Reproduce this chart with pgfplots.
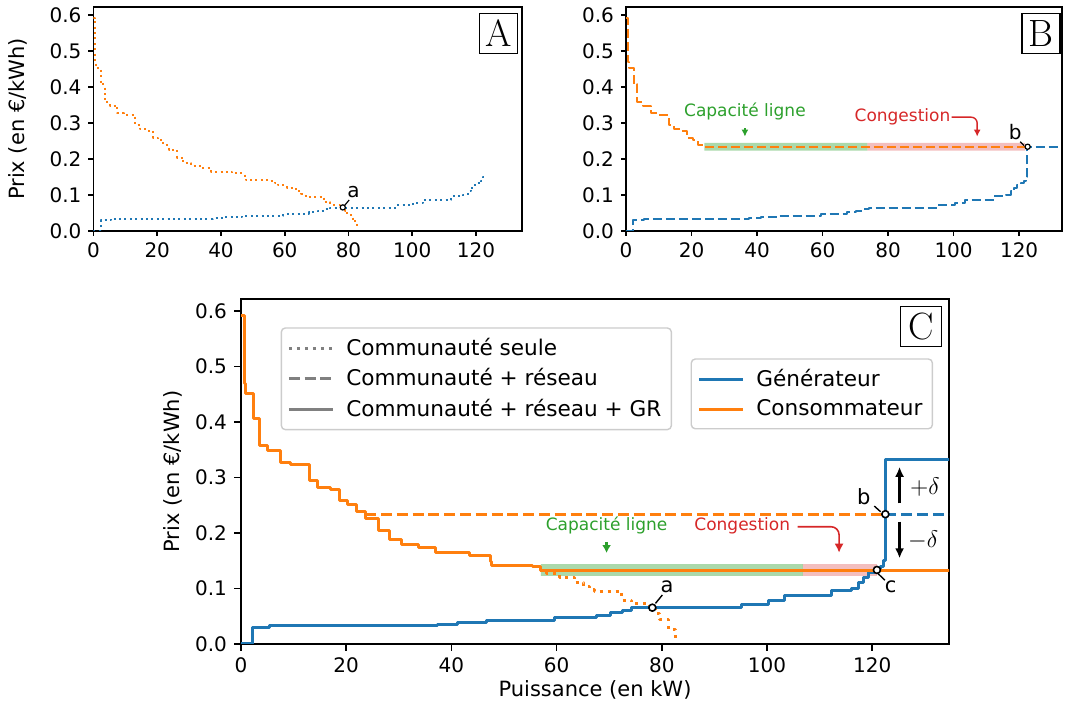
\documentclass[border=0pt]{standalone}
\usepackage{pgfplots}
\usepackage{pgfplotstable}
\pgfplotsset{compat=1.18}
\usepackage{fontspec}
\setsansfont{DejaVu Sans}
\usetikzlibrary{arrows.meta}
\definecolor{cblue}{HTML}{1F77B4}
\definecolor{corange}{HTML}{FF7F0E}
\definecolor{cgreen}{HTML}{2CA02C}
\definecolor{cred}{HTML}{D62728}
\definecolor{lgrey}{HTML}{808080}

% consumer curve, community alone
\pgfplotstableread{
x y
0 0.592
0.6 0.470
0.9 0.452
2.3 0.407
3.5 0.358
5.1 0.348
7.5 0.327
9.5 0.323
13.0 0.295
14.6 0.283
17.1 0.279
18.7 0.259
20.3 0.252
21.9 0.238
23.6 0.226
26.2 0.204
28.2 0.188
30.6 0.180
33.8 0.174
36.9 0.165
43.5 0.160
47.4 0.148
47.7 0.142
55.5 0.139
56.9 0.133
58.0 0.127
60.6 0.1195
63.4 0.110
65.2 0.104
66.2 0.0985
67.2 0.0955
72.3 0.0793
74.3 0.0733
77.2 0.0673
78.8 0.055
79.6 0.045
81.3 0.0264
82.6 0.009
83.2 0.009
}\consAlone

% consumer, community + network
\pgfplotstableread{
x y
0 0.592
0.6 0.470
0.9 0.452
2.3 0.407
3.5 0.358
5.1 0.348
7.5 0.327
9.5 0.323
13.0 0.295
14.6 0.283
17.1 0.279
18.7 0.259
20.3 0.252
21.9 0.238
23.6 0.234
122.5 0.234
}\consNet

% consumer, community + network + GR (solid)
\pgfplotstableread{
x y
0 0.592
0.6 0.470
0.9 0.452
2.3 0.407
3.5 0.358
5.1 0.348
7.5 0.327
9.5 0.323
13.0 0.295
14.6 0.283
17.1 0.279
18.7 0.259
20.3 0.252
21.9 0.238
23.6 0.226
26.2 0.204
28.2 0.188
30.6 0.180
33.8 0.174
36.9 0.165
43.5 0.160
47.4 0.148
47.7 0.142
55.5 0.139
56.9 0.133
137 0.133
}\consGR

% tail of the community-alone consumer curve shown in C
\pgfplotstableread{
x y
56.9 0.133
58.0 0.127
60.6 0.1195
63.4 0.110
65.2 0.104
66.2 0.0985
67.2 0.0955
72.3 0.0793
74.3 0.0733
77.2 0.0673
78.8 0.055
79.6 0.045
81.3 0.0264
82.6 0.009
83.2 0.009
}\consTail

% generator, community alone
\pgfplotstableread{
x y
0 0
2.2 0.0294
5.4 0.034
37.4 0.036
41.2 0.039
46.6 0.043
59.6 0.048
67.5 0.052
70.3 0.056
72.5 0.060
74.3 0.065
95.2 0.071
100.3 0.078
103.4 0.087
112.3 0.097
116.0 0.100
117.4 0.110
118.3 0.120
119.3 0.128
120.5 0.133
121.5 0.140
122.1 0.150
122.5 0.150
}\genAlone

\pgfplotstableread{
x y
0 0
2.2 0.0294
5.4 0.034
37.4 0.036
41.2 0.039
46.6 0.043
59.6 0.048
67.5 0.052
70.3 0.056
72.5 0.060
74.3 0.065
95.2 0.071
100.3 0.078
103.4 0.087
112.3 0.097
116.0 0.100
117.4 0.110
118.3 0.120
119.3 0.128
120.5 0.133
121.5 0.140
122.1 0.150
122.5 0.150
122.5 0.234
137 0.234
}\genNet

\pgfplotstableread{
x y
0 0
2.2 0.0294
5.4 0.034
37.4 0.036
41.2 0.039
46.6 0.043
59.6 0.048
67.5 0.052
70.3 0.056
72.5 0.060
74.3 0.065
95.2 0.071
100.3 0.078
103.4 0.087
112.3 0.097
116.0 0.100
117.4 0.110
118.3 0.120
119.3 0.128
120.5 0.133
121.5 0.140
122.1 0.150
122.5 0.150
122.5 0.333
137 0.333
}\genGR

\pgfplotsset{
  base/.style={
    scale only axis, xmin=0, ymin=0, ymax=0.622,
    axis line style={line width=0.8pt},
    every tick/.style={line width=0.8pt, black},
    tick align=outside, xtick pos=bottom, ytick pos=left,
    xtick={0,20,40,60,80,100,120},
    ytick={0,0.1,0.2,0.3,0.4,0.5,0.6},
    yticklabel style={/pgf/number format/.cd,fixed,fixed zerofill,precision=1},
    /pgf/number format/assume math mode=true,
    tick label style={font=\fontsize{10}{12}\selectfont\sffamily},
    every axis plot/.append style={line join=round},
  },
  small/.style={major tick length=2.5pt},
}
\tikzset{
  letter/.style={draw=black, line width=0.7pt, fill=white, inner sep=0pt,
    minimum width=19pt, minimum height=20pt, anchor=north east,
    font=\fontsize{19}{19}\selectfont\rmfamily},
  ann/.style={font=\fontsize{8.5}{10}\selectfont\sffamily},
  lab/.style={font=\fontsize{10.5}{12}\selectfont\sffamily},
  ptmark/.style={only marks, mark=*, mark options={fill=white, draw=black, line width=0.8pt}},
  ptsmall/.style={only marks, mark=*, mark size=1.3pt, mark options={fill=white, draw=black, line width=0.6pt}},
}

\begin{document}
\begin{tikzpicture}
\path (0,0) rectangle (543.5pt,355.5pt);

% ---------------- Panel A ----------------
\begin{axis}[base, small, at={(46.75pt,240pt)}, anchor=south west,
  width=214.2pt, height=112pt, xmax=134.4,
  ylabel={Prix (en €/kWh)},
  every axis y label/.style={at={(axis description cs:0,0.5)}, xshift=-37.75pt, rotate=90, anchor=center, lab}]
\addplot[const plot, cblue, line width=1pt, dash pattern=on 1pt off 1.7pt] table[x=x,y=y] {\genAlone};
\addplot[const plot, corange, line width=1pt, dash pattern=on 1pt off 1.7pt] table[x=x,y=y] {\consAlone};
\draw[line width=0.6pt] (axis cs:78.7,0.070) -- (axis cs:80.2,0.086);
\addplot[ptsmall] coordinates {(78.2,0.0655)};
\node[font=\fontsize{10}{12}\selectfont\sffamily] at (axis cs:81.6,0.109) {a};
\node[letter] at (rel axis cs:1,1) [xshift=-2pt, yshift=-2.85pt] {A};
\end{axis}

% ---------------- Panel B ----------------
\begin{axis}[base, small, at={(313pt,240pt)}, anchor=south west,
  width=217.85pt, height=112pt, xmax=133.0]
\addplot[draw=none, fill=cgreen, fill opacity=0.4] coordinates {(23.9,0.223) (73.7,0.223) (73.7,0.245) (23.9,0.245) (23.9,0.223)};
\addplot[draw=none, fill=cred, fill opacity=0.3] coordinates {(73.7,0.223) (121.8,0.223) (121.8,0.245) (73.7,0.245) (73.7,0.223)};
\addplot[const plot, cblue, line width=1pt, dash pattern=on 4.5pt off 2pt] table[x=x,y=y] {\genNet};
\addplot[const plot, corange, line width=1pt, dash pattern=on 4.5pt off 2pt] table[x=x,y=y] {\consNet};
\node[ann, text=cgreen] at (axis cs:36.3,0.331) {Capacité ligne};
\draw[cgreen, line width=0.9pt, -{Latex[length=3.5pt,width=3.5pt]}] (axis cs:36.3,0.285) -- (axis cs:36.3,0.262);
\node[ann, text=cred] at (axis cs:84.4,0.316) {Congestion};
\draw[cred, line width=0.7pt, rounded corners=3pt, -{Latex[length=3.5pt,width=3.5pt]}] (axis cs:99.4,0.316) -- (axis cs:107.2,0.316) -- (axis cs:107.2,0.262);
\draw[line width=0.6pt] (axis cs:120.3,0.248) -- (axis cs:121.5,0.237);
\addplot[ptsmall] coordinates {(122.6,0.234)};
\node[font=\fontsize{10}{12}\selectfont\sffamily] at (axis cs:118.8,0.276) {b};
\node[letter] at (rel axis cs:1,1) [xshift=-0.5pt, yshift=-2.85pt] {B};
\end{axis}

% ---------------- Panel C ----------------
\begin{axis}[base, at={(120.5pt,33.5pt)}, anchor=south west,
  width=354pt, height=172.5pt, xmax=134.6, major tick length=3.5pt,
  xlabel={Puissance (en kW)}, ylabel={Prix (en €/kWh)},
  every axis y label/.style={at={(axis description cs:0,0.5)}, xshift=-34pt, rotate=90, anchor=center, lab},
  every axis x label/.style={at={(axis description cs:0.5,0)}, yshift=-23pt, anchor=center, lab},
  legend style={at={(0.056,0.918)}, anchor=north west, draw=black!20, line width=0.7pt,
    rounded corners=2pt, fill=white, fill opacity=0.8, text opacity=1, draw opacity=1,
    font=\fontsize{10.8}{12}\selectfont\sffamily, row sep=1.2pt, inner xsep=3pt, inner ysep=3pt,
    /tikz/every odd column/.style={column sep=4pt}},
  legend cell align=left,
  legend image code/.code={\draw[#1] (0pt,0pt) -- (22pt,0pt);}]
\addlegendimage{lgrey, line width=1.5pt, dash pattern=on 1.5pt off 2.5pt}
\addlegendentry{Communauté seule}
\addlegendimage{lgrey, line width=1.5pt, dash pattern=on 5.5pt off 2.4pt}
\addlegendentry{Communauté + réseau}
\addlegendimage{lgrey, line width=1.5pt}
\addlegendentry{Communauté + réseau + GR}
\addplot[forget plot, draw=none, fill=cgreen, fill opacity=0.4] coordinates {(57,0.1230) (106.8,0.1230) (106.8,0.1440) (57,0.1440) (57,0.1230)};
\addplot[forget plot, draw=none, fill=cred, fill opacity=0.3] coordinates {(106.8,0.1230) (120.9,0.1230) (120.9,0.1440) (106.8,0.1440) (106.8,0.1230)};
\addplot[forget plot, const plot, corange, line width=1.5pt, dash pattern=on 1.5pt off 2.5pt] table[x=x,y=y] {\consTail};
\addplot[forget plot, corange, line width=1.5pt, dash pattern=on 5.5pt off 2.4pt] coordinates {(23.6,0.234) (122.5,0.234)};
\addplot[forget plot, cblue, line width=1.5pt, dash pattern=on 5.5pt off 2.4pt] coordinates {(122.5,0.234) (137,0.234)};
\addplot[forget plot, const plot, cblue, line width=1.5pt] table[x=x,y=y] {\genGR};
\addplot[forget plot, const plot, corange, line width=1.5pt] table[x=x,y=y] {\consGR};
\node[ann, text=cgreen] at (axis cs:69.5,0.213) {Capacité ligne};
\draw[cgreen, line width=1.1pt, -{Latex[length=4pt,width=4.5pt]}] (axis cs:69.5,0.184) -- (axis cs:69.5,0.164);
\node[ann, text=cred] at (axis cs:95.3,0.213) {Congestion};
\draw[cred, line width=0.8pt, rounded corners=4pt, -{Latex[length=4.5pt,width=4.5pt]}] (axis cs:105.8,0.2114) -- (axis cs:113.7,0.2114) -- (axis cs:113.7,0.1646);
\draw[line width=0.7pt] (axis cs:78.8,0.0733) -- (axis cs:80.1,0.0883);
\draw[line width=0.7pt] (axis cs:120.4,0.2486) -- (axis cs:121.6,0.2384);
\draw[line width=0.7pt] (axis cs:121.1,0.127) -- (axis cs:122.4,0.115);
\addplot[forget plot, ptmark, mark size=1.75pt] coordinates {(78.2,0.0655) (122.5,0.234) (120.9,0.1335)};
\node[lab] at (axis cs:81.0,0.103) {a};
\node[lab] at (axis cs:118.4,0.265) {b};
\node[lab] at (axis cs:123.5,0.103) {c};
\draw[line width=1.2pt, -{Latex[length=5pt,width=4.5pt]}] (axis cs:125.2,0.2535) -- (axis cs:125.2,0.3195);
\draw[line width=1.2pt, -{Latex[length=5pt,width=4.5pt]}] (axis cs:125.2,0.2204) -- (axis cs:125.2,0.1544);
\node[font=\fontsize{12}{14}\selectfont] at (axis cs:130,0.2835) {$+\delta$};
\node[font=\fontsize{12}{14}\selectfont] at (axis cs:129.7,0.187) {$-\delta$};
\node[letter, minimum width=20.5pt] at (rel axis cs:1,1) [xshift=-3.3pt, yshift=-3.5pt] {C};
\end{axis}

% second legend for panel C
\begin{axis}[at={(120.5pt,33.5pt)}, anchor=south west, scale only axis,
  width=354pt, height=172.5pt, hide axis, xmin=0, xmax=1, ymin=0, ymax=1,
  legend style={at={(0.635,0.828)}, anchor=north west, draw=black!20, line width=0.7pt,
    rounded corners=2pt, fill=white, fill opacity=0.8, text opacity=1, draw opacity=1,
    font=\fontsize{10.8}{12}\selectfont\sffamily, row sep=1.2pt, inner xsep=3pt, inner ysep=3pt,
    /tikz/every odd column/.style={column sep=4pt}},
  legend cell align=left,
  legend image code/.code={\draw[#1] (0pt,0pt) -- (22pt,0pt);}]
\addlegendimage{cblue, line width=1.5pt}
\addlegendentry{Générateur}
\addlegendimage{corange, line width=1.5pt}
\addlegendentry{Consommateur}
\end{axis}
\end{tikzpicture}
\end{document}
